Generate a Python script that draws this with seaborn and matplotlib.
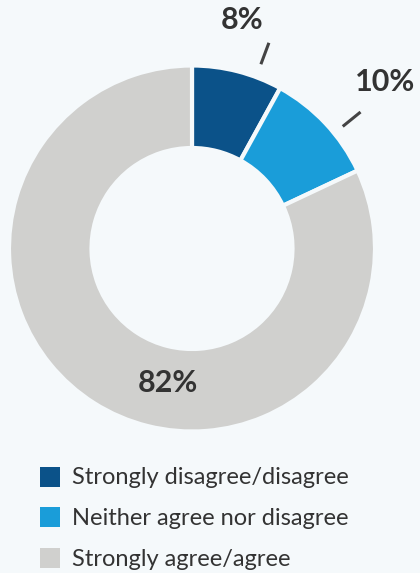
import numpy as np
import matplotlib
matplotlib.use("Agg")
import matplotlib.pyplot as plt
import seaborn as sns
from matplotlib.patches import Rectangle

categories = ["Strongly disagree/disagree", "Neither agree nor disagree", "Strongly agree/agree"]
shares = [8, 10, 82]
colors = ["#0b5289", "#1a9dd9", "#d0d0ce"]
value_labels = ["8%", "10%", "82%"]

BG = "#f5f9fb"
TXT = "#333333"

sns.set_theme(style="white")
plt.rcParams["font.family"] = ["Lato", "DejaVu Sans"]

W, H = 420, 573
fig = plt.figure(figsize=(W / 100, H / 100), dpi=100, facecolor=BG)
ax = fig.add_axes([0, 0, 1, 1], facecolor=BG)

# work in pixel-like units, y measured upward
cx, cy, R, r_in = 192, H - 248.5, 183, 100.5
ax.pie(
    shares, colors=colors, startangle=90, counterclock=False,
    center=(cx, cy), radius=R, frame=True,
    wedgeprops=dict(width=R - r_in, edgecolor=BG, linewidth=3),
)
ax.set_xlim(0, W)
ax.set_ylim(0, H)
ax.set_aspect("equal")
ax.axis("off")


def polar(ang_deg, r):
    a = np.deg2rad(ang_deg)
    return cx + r * np.sin(a), cy + r * np.cos(a)


# leader lines and outside labels for the two small slices
# (angles measured clockwise from 12 o'clock)
outside = [(0, 20.5, 1.075, 1.20, 12.3, 1.278), (1, 51.0, 1.06, 1.185, 49.2, 1.393)]
for idx, l_ang, r0, r1, t_ang, t_r in outside:
    x0, y0 = polar(l_ang, r0 * R)
    x1, y1 = polar(l_ang, r1 * R)
    ax.plot([x0, x1], [y0, y1], color="#444444", lw=2.2, solid_capstyle="butt")
    tx, ty = polar(t_ang, t_r * R)
    ax.text(tx, ty, value_labels[idx], ha="center", va="center",
            fontsize=22, fontweight="bold", color=TXT)

ax.text(cx - 24, cy - 135, value_labels[2], ha="center", va="center",
        fontsize=22, fontweight="bold", color=TXT)

# legend: coloured squares with labels
sq_top = [467, 507, 548]
baselines = [484, 525, 565.5]
for cat, col, top, base in zip(categories, colors, sq_top, baselines):
    ax.add_patch(Rectangle((40, H - top - 20), 20, 20, facecolor=col, edgecolor="none"))
    ax.text(72, H - base, cat, ha="left", va="baseline", fontsize=17, color=TXT)

fig.savefig("out.png", dpi=100, facecolor=BG)
